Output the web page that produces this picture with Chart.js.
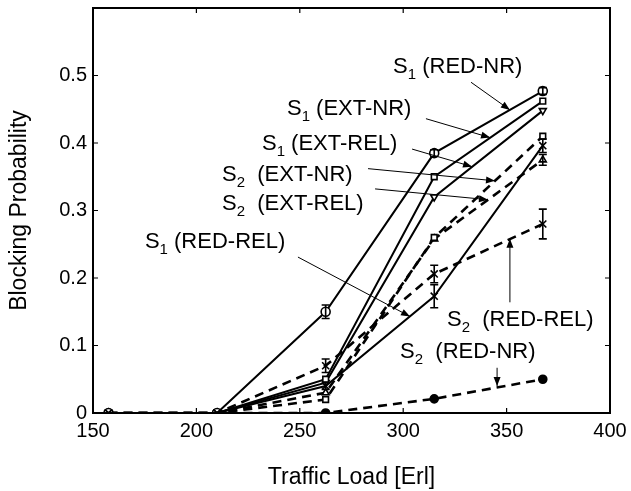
<!DOCTYPE html>
<html>
<head>
<meta charset="utf-8">
<script src="https://cdn.jsdelivr.net/npm/chart.js@4.4.1/dist/chart.umd.min.js"></script>
<style>
  html, body { margin: 0; padding: 0; background: #fff; }
  #wrap { width: 631px; height: 491px; }
</style>
</head>
<body>
<div id="wrap"><canvas id="c" width="631" height="491"></canvas></div>
<script>
// ---- data ----
const trafficLoad = [157.5, 210, 262.5, 315, 367.5];
const s1RedNR  = [0, 0, 0.150, 0.385, 0.477];
const s1ExtNR  = [0, 0, 0.050, 0.350, 0.462];
const s1ExtREL = [0, 0, 0.045, 0.320, 0.448];
const s2ExtNR  = [0, 0, 0.020, 0.260, 0.410];
const s2ExtREL = [0, 0, 0.030, 0.258, 0.375];
const s1RedREL = [0, 0, 0.040, 0.173, 0.396];
const s2RedREL = [0, 0, 0.070, 0.206, 0.280];
const s2RedNR  = [0, 0, 0.000, 0.021, 0.050];

const s1RedNRErr  = [0, 0, 0.010, 0.005, 0.005];
const s1RedRELErr = [0, 0, 0.005, 0.017, 0.010];
const s2RedRELErr = [0, 0, 0.010, 0.013, 0.022];
const s2ExtRELErr = [0, 0, 0.000, 0.000, 0.008];

const xTickValues = [150, 200, 250, 300, 350, 400];
const yTickValues = [0, 0.1, 0.2, 0.3, 0.4, 0.5];

const xAxisTitle = 'Traffic Load [Erl]';
const yAxisTitle = 'Blocking Probability';

// annotation labels
const labelTexts = [
  ['S', '1', ' (RED-NR)'],
  ['S', '1', ' (EXT-NR)'],
  ['S', '1', ' (EXT-REL)'],
  ['S', '2', '  (EXT-NR)'],
  ['S', '2', '  (EXT-REL)'],
  ['S', '1', ' (RED-REL)'],
  ['S', '2', '  (RED-REL)'],
  ['S', '2', '  (RED-NR)']
];
const labelAnchors = [
  [295.1, 0.513], [243.8, 0.451], [231.7, 0.399], [212.4, 0.353],
  [212.4, 0.310], [175.1, 0.253], [321.2, 0.138], [298.5, 0.091]
];
const arrowFrom = [
  [332.8, 0.490], [311.0, 0.436], [304.3, 0.391], [283.0, 0.362],
  [286.4, 0.332], [249.1, 0.231], [351.6, 0.164], [345.4, 0.067]
];
const arrowTo = [
  [351.6, 0.449], [342.0, 0.408], [333.3, 0.365], [344.4, 0.344],
  [341.0, 0.316], [303.3, 0.143], [351.6, 0.258], [345.4, 0.040]
];

function pts(ys) { return trafficLoad.map((x, i) => ({x: x, y: ys[i]})); }

const FONT = '"Liberation Sans", Arial, Helvetica, sans-serif';
const LABEL_SIZE = 22;

function ds(label, ys, style, dashed, err, extra) {
  return Object.assign({
    label: label,
    data: pts(ys),
    borderColor: '#000',
    borderWidth: dashed ? 2.6 : 2,
    borderDash: dashed ? [9, 6] : [],
    pointStyle: style,
    pointRadius: 4,
    pointBorderWidth: 1.6,
    pointBackgroundColor: '#fff',
    pointBorderColor: '#000',
    fill: false,
    tension: 0,
    order: 1,
    errors: err || null
  }, extra || {});
}

const datasets = [
  ds('S1 (RED-NR)', s1RedNR, 'circle', false, s1RedNRErr, {pointRadius: 4.5}),
  ds('S1 (EXT-NR)', s1ExtNR, 'rect', false, null),
  ds('S1 (EXT-REL)', s1ExtREL, 'triangle', false, null, {pointRotation: 180}),
  ds('S2 (EXT-NR)', s2ExtNR, 'rect', true, null),
  ds('S2 (EXT-REL)', s2ExtREL, 'triangle', true, s2ExtRELErr),
  ds('S1 (RED-REL)', s1RedREL, 'crossRot', false, s1RedRELErr, {pointRadius: 5, order: 0}),
  ds('S2 (RED-REL)', s2RedREL, 'crossRot', true, s2RedRELErr, {pointRadius: 5, order: 0}),
  ds('S2 (RED-NR)', s2RedNR, 'circle', true, null, {pointBackgroundColor: '#000', order: 2})
];

const framePlugin = {
  id: 'frame',
  afterDatasetsDraw(chart) {
    const {ctx, chartArea: a, scales: {x, y}} = chart;
    ctx.save();
    // error bars
    ctx.strokeStyle = '#000';
    ctx.lineWidth = 1.6;
    ctx.setLineDash([]);
    chart.data.datasets.forEach(d => {
      if (!d.errors) return;
      d.data.forEach((p, i) => {
        const e = d.errors[i];
        if (!e) return;
        const px = x.getPixelForValue(p.x);
        const y1 = y.getPixelForValue(p.y - e);
        const y2 = y.getPixelForValue(p.y + e);
        ctx.beginPath();
        ctx.moveTo(px, y1); ctx.lineTo(px, y2);
        ctx.moveTo(px - 4, y1); ctx.lineTo(px + 4, y1);
        ctx.moveTo(px - 4, y2); ctx.lineTo(px + 4, y2);
        ctx.stroke();
      });
    });
    // frame
    ctx.lineWidth = 2;
    ctx.strokeRect(a.left, a.top, a.right - a.left, a.bottom - a.top);
    // inward ticks
    ctx.lineWidth = 1.2;
    const tl = 5;
    xTickValues.forEach(v => {
      const px = x.getPixelForValue(v);
      ctx.beginPath();
      ctx.moveTo(px, a.bottom); ctx.lineTo(px, a.bottom - tl);
      ctx.moveTo(px, a.top); ctx.lineTo(px, a.top + tl);
      ctx.stroke();
    });
    yTickValues.forEach(v => {
      const py = y.getPixelForValue(v);
      ctx.beginPath();
      ctx.moveTo(a.left, py); ctx.lineTo(a.left + tl, py);
      ctx.moveTo(a.right, py); ctx.lineTo(a.right - tl, py);
      ctx.stroke();
    });
    // annotations
    ctx.fillStyle = '#000';
    ctx.textBaseline = 'middle';
    labelTexts.forEach((t, i) => {
      let tx = x.getPixelForValue(labelAnchors[i][0]);
      const ty = y.getPixelForValue(labelAnchors[i][1]);
      ctx.font = LABEL_SIZE + 'px ' + FONT;
      ctx.fillText(t[0], tx, ty);
      tx += ctx.measureText(t[0]).width;
      ctx.font = Math.round(LABEL_SIZE * 0.68) + 'px ' + FONT;
      ctx.fillText(t[1], tx, ty + 8);
      tx += ctx.measureText(t[1]).width;
      ctx.font = LABEL_SIZE + 'px ' + FONT;
      ctx.fillText(t[2], tx, ty);
      // arrow
      const fx = x.getPixelForValue(arrowFrom[i][0]);
      const fy = y.getPixelForValue(arrowFrom[i][1]);
      const ex = x.getPixelForValue(arrowTo[i][0]);
      const ey = y.getPixelForValue(arrowTo[i][1]);
      ctx.lineWidth = 1;
      ctx.beginPath();
      ctx.moveTo(fx, fy); ctx.lineTo(ex, ey);
      ctx.stroke();
      const ang = Math.atan2(ey - fy, ex - fx);
      const L = 9, W = 3.5;
      ctx.beginPath();
      ctx.moveTo(ex, ey);
      ctx.lineTo(ex - L * Math.cos(ang) + W * Math.sin(ang), ey - L * Math.sin(ang) - W * Math.cos(ang));
      ctx.lineTo(ex - L * Math.cos(ang) - W * Math.sin(ang), ey - L * Math.sin(ang) + W * Math.cos(ang));
      ctx.closePath();
      ctx.fill();
    });
    ctx.restore();
  }
};

new Chart(document.getElementById('c'), {
  type: 'line',
  data: { datasets: datasets },
  options: {
    responsive: false,
    animation: false,
    layout: { padding: { left: 0, top: 8, right: 21, bottom: 0 } },
    plugins: { legend: { display: false }, tooltip: { enabled: false } },
    scales: {
      x: {
        type: 'linear', min: 150, max: 400,
        afterBuildTicks: s => { s.ticks = xTickValues.map(v => ({value: v})); },
        afterFit: s => { s.height = 78; s.paddingLeft = 0; s.paddingRight = 0; },
        grid: { display: false, drawTicks: false },
        border: { display: false },
        ticks: { color: '#000', font: { size: 20, family: FONT }, padding: 6, maxRotation: 0,
                 callback: v => String(v) },
        title: { display: true, text: xAxisTitle, color: '#000',
                 font: { size: 23, family: FONT }, padding: { top: 0, bottom: 0 } }
      },
      y: {
        type: 'linear', min: 0, max: 0.6,
        afterBuildTicks: s => { s.ticks = yTickValues.map(v => ({value: v})); },
        afterFit: s => { s.width = 93; s.paddingTop = 0; s.paddingBottom = 0; },
        grid: { display: false, drawTicks: false },
        border: { display: false },
        ticks: { color: '#000', font: { size: 20, family: FONT }, padding: 6,
                 callback: v => (v === 0 ? '0' : String(Math.round(v * 10) / 10)) },
        title: { display: true, text: yAxisTitle, color: '#000',
                 font: { size: 23, family: FONT }, padding: { top: 6, bottom: 0 } }
      }
    }
  },
  plugins: [framePlugin]
});
</script>
</body>
</html>
